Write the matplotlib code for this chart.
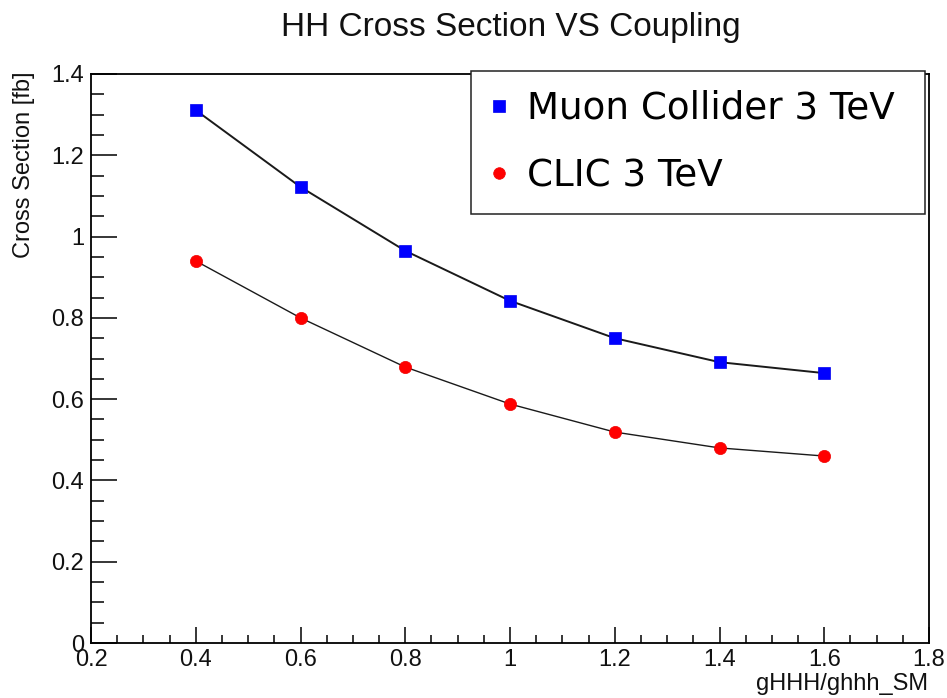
import matplotlib
matplotlib.use("Agg")
import matplotlib.pyplot as plt
from matplotlib.patches import Rectangle
from matplotlib.ticker import FixedLocator, MultipleLocator

# Coupling scan points and cross sections [fb]
coupling = [0.4, 0.6, 0.8, 1.0, 1.2, 1.4, 1.6]
xs_muon = [1.311, 1.122, 0.965, 0.842, 0.750, 0.691, 0.664]
xs_clic = [0.940, 0.800, 0.679, 0.588, 0.519, 0.480, 0.460]

series_labels = ["Muon Collider 3 TeV", "CLIC 3 TeV"]

x_ticks = [0.2, 0.4, 0.6, 0.8, 1.0, 1.2, 1.4, 1.6, 1.8]
x_tick_labels = ["0.2", "0.4", "0.6", "0.8", "1", "1.2", "1.4", "1.6", "1.8"]
y_ticks = [0.0, 0.2, 0.4, 0.6, 0.8, 1.0, 1.2, 1.4]
y_tick_labels = ["0", "0.2", "0.4", "0.6", "0.8", "1", "1.2", "1.4"]

SANS = ["Liberation Sans", "DejaVu Sans"]
W, H = 947, 698

fig = plt.figure(figsize=(W / 100, H / 100), dpi=100)
fig.patch.set_facecolor("white")
ax = fig.add_axes([91 / W, 1 - 643 / H, (929 - 91) / W, (643 - 74) / H])

ax.plot(coupling, xs_muon, color="#1a1a1a", lw=1.4, zorder=2)
ax.plot(coupling, xs_clic, color="#1a1a1a", lw=1.0, zorder=2)
h_muon, = ax.plot(coupling, xs_muon, ls="none", marker="s", ms=9.3,
                  mfc="#0000ff", mec="#0000ee", mew=0.5, zorder=3)
h_clic, = ax.plot(coupling, xs_clic, ls="none", marker="o", ms=8.8,
                  mfc="#ff0000", mec="#f00000", mew=0.5, zorder=3)

ax.set_xlim(0.2, 1.8)
ax.set_ylim(0.0, 1.4)
ax.xaxis.set_major_locator(FixedLocator(x_ticks))
ax.yaxis.set_major_locator(FixedLocator(y_ticks))
ax.xaxis.set_minor_locator(MultipleLocator(0.05))
ax.yaxis.set_minor_locator(MultipleLocator(0.05))
ax.set_xticklabels(x_tick_labels, fontfamily=SANS, fontsize=17, color="#111111")
ax.set_yticklabels(y_tick_labels, fontfamily=SANS, fontsize=17, color="#111111")

ax.tick_params(axis="both", which="both", direction="in", top=False, right=False,
               width=1.1, color="black")
ax.tick_params(axis="x", which="major", length=11.5, pad=4)
ax.tick_params(axis="x", which="minor", length=5.8)
ax.tick_params(axis="y", which="major", length=18.7, pad=5)
ax.tick_params(axis="y", which="minor", length=9.0)
for s in ax.spines.values():
    s.set_linewidth(1.3)
    s.set_color("black")

fig.text(511 / W, 1 - 36 / H, "HH Cross Section VS Coupling", ha="center",
         va="baseline", fontsize=24, family=SANS, color="#111111")
fig.text(928 / W, 8 / H, "gHHH/ghhh_SM", ha="right", va="baseline",
         fontsize=17, family=SANS, color="#111111")
fig.text(24 / W, 1 - 72 / H, "Cross Section [fb]", ha="center", va="top",
         rotation=90, fontsize=17, family=SANS, color="#111111")

# Legend box
fig.patches.append(Rectangle((471 / W, 1 - 214 / H), 454 / W, 143 / H,
                             transform=fig.transFigure, facecolor="white",
                             edgecolor="#222222", lw=1.1, zorder=1))
fig.legend([h_muon, h_clic], series_labels, loc="center left",
           bbox_to_anchor=(484.6 / W, 1 - 142 / H), bbox_transform=fig.transFigure,
           frameon=False, borderpad=0, borderaxespad=0, handlelength=0.78,
           handletextpad=0.37, labelspacing=0.82, markerscale=0.95,
           prop={"family": ["DejaVu Sans"], "size": 26.8})

fig.savefig("out.png", dpi=100, facecolor="white")
